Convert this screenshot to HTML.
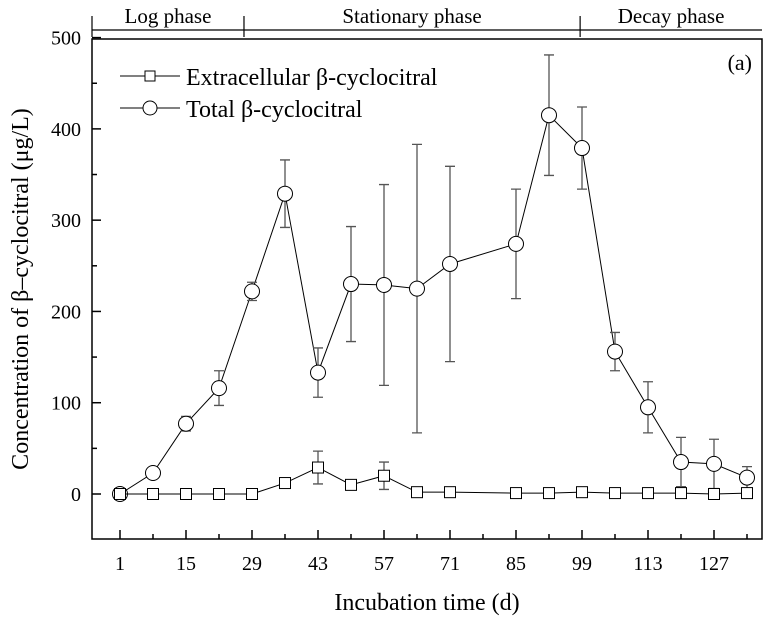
<!DOCTYPE html>
<html><head><meta charset="utf-8"><style>
body{margin:0;background:#fff}
svg text{font-family:"Liberation Serif",serif;fill:#000}
</style></head><body>
<svg id="chart" width="776" height="621">
<g id="g"></g>
</svg>
<script>
const days=[1,8,15,22,29,36,43,50,57,64,71,85,92,99,106,113,120,127,134];
const totalVals=[0,23,77,116,222,329,133,230,229,225,252,274,415,379,156,95,35,33,18];
const totalErr=[0,3,8,19,10,37,27,63,110,158,107,60,66,45,21,28,27,27,12];
const extraVals=[0,0,0,0,0,12,29,10,20,2,2,1,1,2,1,1,1,0,1];
const extraErr=[0,0,0,0,0,3,18,2,15,0,0,0,0,0,0,0,0,0,0];
const xTicks=[1,15,29,43,57,71,85,99,113,127];
const yTicks=[0,100,200,300,400,500];
const phases=[["Log phase",-5,27.3],["Stationary phase",27.3,98.6],["Decay phase",98.6,141]];
const L=92,R=762,T=39,B=539;
const X=d=>120+(d-1)*66/14;
const Y=v=>494-v*0.9128;
const ns="http://www.w3.org/2000/svg",g=document.getElementById('g');
function el(t,a,txt){const e=document.createElementNS(ns,t);for(const k in a)e.setAttribute(k,a[k]);if(txt!==undefined)e.textContent=txt;g.appendChild(e);return e;}
let e;
e=el('rect',{x:L,y:T,width:R-L,height:B-T,fill:'none',stroke:'#000','stroke-width':1.5});

e=el('line',{x1:L,x2:R,y1:30,y2:30,stroke:'#000','stroke-width':1.2});

phases.forEach((p,i)=>{
 const x0=Math.max(L,X(p[1])),x1=Math.min(R,X(p[2]));
 e=el('line',{x1:x0,x2:x0,y1:16,y2:37,stroke:'#000','stroke-width':1.2});
 
 e=el('text',{x:(x0+x1)/2,y:23,'font-size':21,'text-anchor':'middle'},p[0]);
 
});
for(let d=1;d<=141;d+=7){
 const maj=xTicks.includes(d);
 e=el('line',{x1:X(d),x2:X(d),y1:B,y2:B-(maj?9:5),stroke:'#000','stroke-width':1.5});
 
}
xTicks.forEach(d=>{e=el('text',{x:X(d),y:570,'font-size':20,'text-anchor':'middle'},d);
 });
for(let v=0;v<=500;v+=50){
 const maj=v%100===0;
 e=el('line',{x1:L,x2:L+(maj?9:5),y1:Y(v),y2:Y(v),stroke:'#000','stroke-width':1.5});
 
}
yTicks.forEach(v=>{e=el('text',{x:81,y:Y(v)+7,'font-size':20,'text-anchor':'end'},v);
 });
e=el('text',{x:427,y:610,'font-size':24,'text-anchor':'middle'},'Incubation time (d)');

e=el('text',{x:0,y:0,'font-size':24,'text-anchor':'middle',transform:'translate(28,289) rotate(-90)'},'Concentration of β–cyclocitral (μg/L)');

e=el('text',{x:752,y:70,'font-size':22,'text-anchor':'end'},'(a)');

function series(vals,errs,shape,name){
 e=el('polyline',{points:days.map((d,i)=>X(d)+','+Y(vals[i])).join(' '),fill:'none',stroke:'#000','stroke-width':1});
 
 days.forEach((d,i)=>{
  if(errs[i]>0){const x=X(d),y1=Y(vals[i]+errs[i]),y2=Y(vals[i]-errs[i]);
   e=el('path',{d:`M${x},${y1}V${y2}M${x-5},${y1}H${x+5}M${x-5},${y2}H${x+5}`,stroke:'#555','stroke-width':1.3,fill:'none'});
   }
 });
 days.forEach((d,i)=>{
  const x=X(d),y=Y(vals[i]);
  if(shape==='c')e=el('circle',{cx:x,cy:y,r:7.5,fill:'#fff',stroke:'#000','stroke-width':1});
  else e=el('rect',{x:x-5.5,y:y-5.5,width:11,height:11,fill:'#fff',stroke:'#000','stroke-width':1});
  
 });
}
series(totalVals,totalErr,'c','total');
series(extraVals,extraErr,'s','extracellular');
e=el('line',{x1:120,x2:180,y1:76,y2:76,stroke:'#000'});
e=el('rect',{x:145,y:71,width:10,height:10,fill:'#fff',stroke:'#000'});
e=el('text',{x:186,y:85,'font-size':24},'Extracellular β-cyclocitral');
e=el('line',{x1:120,x2:180,y1:108,y2:108,stroke:'#000'});
e=el('circle',{cx:150,cy:108,r:7,fill:'#fff',stroke:'#000'});
e=el('text',{x:186,y:117,'font-size':24},'Total β-cyclocitral');
</script>
</body></html>
